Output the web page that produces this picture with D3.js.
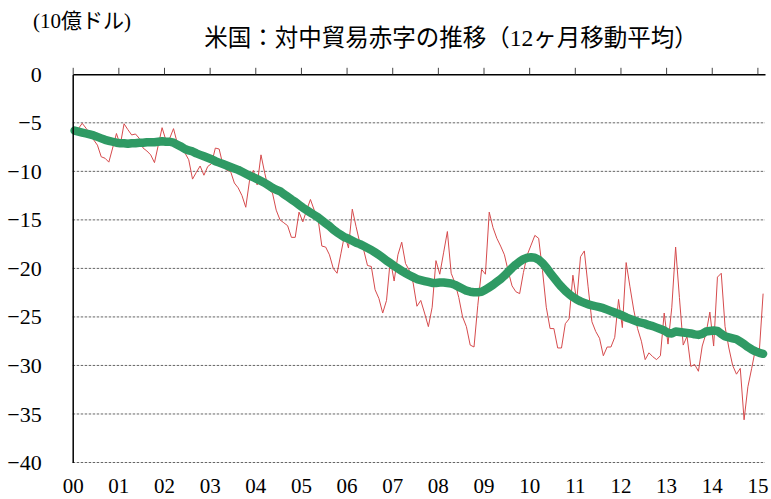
<!DOCTYPE html>
<html>
<head>
<meta charset="utf-8">
<script src="https://cdn.jsdelivr.net/npm/d3@7"></script>
<style>
  html, body { margin: 0; padding: 0; background: #fff; }
  svg { display: block; }
</style>
</head>
<body>
<svg id="chart" width="771" height="499"></svg>
<script>
// ---- data (billion USD, monthly, Jan 2000 – Feb 2015) ----
const yearLabels = ["00","01","02","03","04","05","06","07","08","09","10","11","12","13","14","15"];
const yTicks = [0, -5, -10, -15, -20, -25, -30, -35, -40];

// monthly US trade balance with China (thin red line)
const monthly = [
  -6.0, -5.6, -5.05, -5.55, -6.1, -6.75, -7.3, -8.5, -8.65, -9.05, -7.6, -6.1,
  -7.3, -5.1, -5.7, -6.25, -6.15, -6.6, -7.6, -7.9, -8.3, -9.1, -7.3, -5.5,
  -6.8, -6.6, -5.6, -7.1, -7.6, -8.1, -8.8, -10.8, -10.1, -9.45, -10.4, -9.5,
  -9.2, -7.6, -7.7, -9.35, -9.9, -10.0, -11.2, -11.7, -12.5, -13.7, -10.9, -9.9,
  -11.4, -8.3, -10.2, -11.9, -12.2, -14.0, -15.0, -15.3, -15.6, -16.8, -16.8, -14.2,
  -15.2, -14.0, -12.9, -14.0, -14.9, -17.7, -17.8, -18.6, -20.0, -20.5, -18.5, -16.5,
  -17.9, -13.9, -15.7, -17.4, -18.1, -19.7, -19.8, -22.2, -23.1, -24.6, -23.3, -19.1,
  -21.3, -18.6, -17.3, -19.5, -20.2, -21.5, -23.9, -23.3, -24.6, -26.0, -24.0, -19.2,
  -20.6, -18.4, -16.2, -20.5, -21.5, -23.0, -25.0, -26.0, -27.9, -28.1, -23.8, -20.1,
  -20.6, -14.2, -15.8, -16.9, -17.7, -18.6, -20.3, -21.8, -22.4, -22.6, -20.4, -18.6,
  -17.6, -16.6, -16.9, -20.2, -24.0, -26.2, -26.2, -28.2, -28.2, -25.7, -25.2, -20.7,
  -23.4, -18.8, -18.2, -21.9, -25.5, -26.5, -27.2, -29.0, -28.1, -28.1, -27.1, -23.2,
  -26.1, -19.4, -21.9, -24.3, -26.2, -27.5, -29.4, -28.7, -29.1, -29.4, -29.0, -24.6,
  -27.8, -24.0, -17.8, -23.0, -27.9, -27.0, -30.1, -29.9, -30.6, -28.0, -26.7, -24.5,
  -28.0, -20.9, -20.5, -26.0, -28.2, -30.0, -30.9, -30.3, -35.6, -32.2, -30.3, -28.3,
  -28.6, -22.6
];

// 12-month moving average (thick green line)
const movingAvg = [
  -5.8, -5.9, -6.0, -6.1, -6.2, -6.3, -6.45, -6.6, -6.75, -6.85, -6.95, -7.05,
  -7.1, -7.1, -7.15, -7.1, -7.1, -7.05, -7.05, -7.0, -7.0, -7.0, -6.95, -6.9,
  -6.95, -6.95, -7.05, -7.25, -7.45, -7.7, -7.85, -7.95, -8.15, -8.3, -8.45, -8.6,
  -8.75, -8.95, -9.1, -9.25, -9.4, -9.55, -9.7, -9.85, -10.05, -10.25, -10.45, -10.6,
  -10.8, -11.0, -11.2, -11.45, -11.7, -11.9, -12.05, -12.35, -12.6, -12.9, -13.15, -13.45,
  -13.75, -14.0, -14.25, -14.5, -14.75, -15.05, -15.35, -15.65, -16.0, -16.3, -16.55, -16.8,
  -16.95, -17.15, -17.35, -17.5, -17.7, -17.9, -18.1, -18.35, -18.6, -18.9, -19.2, -19.45,
  -19.75, -20.0, -20.25, -20.5, -20.7, -20.9, -21.1, -21.2, -21.3, -21.4, -21.5, -21.5,
  -21.45, -21.45, -21.5, -21.55, -21.7, -21.9, -22.1, -22.3, -22.4, -22.45, -22.45, -22.4,
  -22.2, -21.95, -21.7, -21.4, -21.1, -20.75, -20.35, -19.95, -19.6, -19.3, -19.05, -18.9,
  -18.85, -18.9, -19.1, -19.45, -19.9, -20.45, -20.95, -21.45, -21.9, -22.3, -22.65, -22.95,
  -23.2, -23.4, -23.55, -23.7, -23.8, -23.9, -24.0, -24.1, -24.25, -24.4, -24.55, -24.7,
  -24.85, -25.05, -25.2, -25.35, -25.5, -25.6, -25.7, -25.85, -25.95, -26.1, -26.25, -26.4,
  -26.65, -26.7, -26.5, -26.55, -26.6, -26.65, -26.7, -26.8, -26.85, -26.75, -26.5, -26.45,
  -26.4, -26.45, -26.75, -27.0, -27.1, -27.2, -27.3, -27.55, -27.8, -28.1, -28.35, -28.55,
  -28.7, -28.8
];

const unitLabel = "(10億ドル)";
const title = "米国：対中貿易赤字の推移（12ヶ月移動平均）";

// ---- layout ----
const FONT = "'Liberation Serif', 'Noto Sans CJK JP', serif";
const svg = d3.select("#chart");
const mLeft = 72.7, mRight = 765, mTop = 74.3, mBottom = 462.5;

const x = d3.scaleBand().domain(d3.range(monthly.length)).range([mLeft, mRight]).paddingInner(0).paddingOuter(0);
const xc = i => x(i) + x.bandwidth() / 2;
const y = d3.scaleLinear().domain([-40, 0]).range([mBottom, mTop]);

// gridlines
svg.append("g").selectAll("line")
  .data(yTicks.filter(d => d !== 0))
  .join("line")
  .attr("x1", mLeft).attr("x2", mRight)
  .attr("y1", d => y(d)).attr("y2", d => y(d))
  .attr("stroke", "#666").attr("stroke-width", 1)
  .attr("stroke-dasharray", "2.5,1.5");

// monthly series (thin red)
svg.append("path")
  .datum(monthly)
  .attr("fill", "none")
  .attr("stroke", "#d64b4d")
  .attr("stroke-width", 1)
  .attr("stroke-linejoin", "round")
  .attr("d", d3.line().x((d, i) => xc(i)).y(d => y(d)));

// moving average (thick green)
svg.append("path")
  .datum(movingAvg)
  .attr("fill", "none")
  .attr("stroke", "#2f9a64")
  .attr("stroke-width", 8.5)
  .attr("stroke-linejoin", "round")
  .attr("stroke-linecap", "round")
  .attr("d", d3.line().x((d, i) => xc(i)).y(d => y(d)));

// left axis with labels
const yAxis = d3.axisLeft(y)
  .tickValues(yTicks)
  .tickSize(0)
  .tickSizeOuter(0)
  .tickPadding(31)
  .tickFormat(d => d === 0 ? "0" : "\u2212" + Math.abs(d));
const gy = svg.append("g").attr("transform", `translate(${mLeft},0)`).call(yAxis);
gy.attr("font-family", null).attr("font-size", null);
gy.select(".domain").attr("stroke", "#000").attr("stroke-width", 1.5);
gy.selectAll("text")
  .style("font-family", FONT).style("font-size", "22px").attr("fill", "#000");

// top axis (value 0) with year ticks
const yearStarts = yearLabels.map((_, k) => k * 12);
const xTop = d3.scaleLinear().domain([0, monthly.length]).range([mLeft, mRight]);
const topAxis = d3.axisTop(xTop)
  .tickValues(yearStarts)
  .tickSize(6.5)
  .tickSizeOuter(0)
  .tickFormat("");
const gt = svg.append("g").attr("transform", `translate(0,${mTop})`).call(topAxis);
gt.select(".domain").attr("stroke", "#000").attr("stroke-width", 1.5);
gt.selectAll(".tick line").attr("stroke", "#444").attr("stroke-width", 1);

// year labels at the bottom
const bottomAxis = d3.axisBottom(xTop)
  .tickValues(yearStarts)
  .tickSize(0)
  .tickPadding(16)
  .tickFormat((d, i) => yearLabels[i]);
const gb = svg.append("g").attr("transform", `translate(0,${mBottom})`).call(bottomAxis);
gb.attr("font-family", null).attr("font-size", null);
gb.select(".domain").remove();
gb.selectAll("text")
  .style("font-family", FONT).style("font-size", "21px").attr("fill", "#000");

// unit label and title
svg.append("text")
  .attr("x", 33).attr("y", 28)
  .style("font-family", FONT)
  .style("font-size", "21px")
  .text(unitLabel);

svg.append("text")
  .attr("x", 451).attr("y", 46)
  .attr("text-anchor", "middle")
  .style("font-family", FONT)
  .style("font-size", "23.5px")
  .text(title);
</script>
</body>
</html>
